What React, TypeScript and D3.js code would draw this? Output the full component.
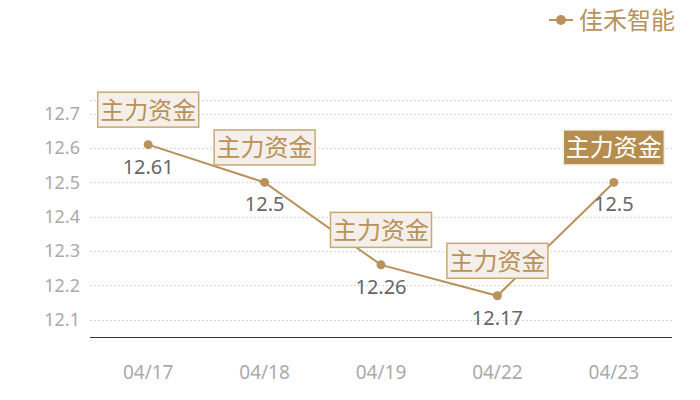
import React from "react";
import * as d3 from "d3";

const categories = ["04/17", "04/18", "04/19", "04/22", "04/23"];
const values = [12.61, 12.5, 12.26, 12.17, 12.5];
const yTicks = [12.1, 12.2, 12.3, 12.4, 12.5, 12.6, 12.7];
const tagText = "主力资金";
const highlighted = [false, false, false, false, true];
const seriesName = "佳禾智能";

const W = 700;
const H = 400;
const GOLD = "#b8925a";
const CJK = "'Noto Sans CJK SC', sans-serif";
const LAT = "'Noto Sans', 'Noto Sans CJK SC', sans-serif";

export default function App() {
  const left = 90;
  const right = 672;
  const top = 100;
  const bottom = 337;

  const x = d3.scaleBand<string>().domain(categories).range([left, right]);
  const y = d3.scaleLinear().domain([12.05, 12.74]).range([bottom, top]);
  const cx = (c: string) => (x(c) as number) + x.bandwidth() / 2;

  const line = d3
    .line<number>()
    .x((_, i) => cx(categories[i]))
    .y((v) => y(v));

  const gridVals = [...yTicks, 12.74];

  return (
    <svg
      width={W}
      height={H}
      style={{ position: "absolute", left: 0, top: 0, fontFamily: LAT }}
    >
      <rect width={W} height={H} fill="#fff" />
      {/* legend */}
      <g>
        <line x1={549} x2={573} y1={20} y2={20} stroke={GOLD} strokeWidth={2} />
        <circle cx={561} cy={20} r={5} fill={GOLD} />
        <text x={579} y={20} dy="0.36em" fontSize={24} fill={GOLD} fontFamily={CJK}>
          {seriesName}
        </text>
      </g>
      {/* grid */}
      {gridVals.map((v) => (
        <line
          key={v}
          x1={left}
          x2={right}
          y1={Math.round(y(v)) + 0.5}
          y2={Math.round(y(v)) + 0.5}
          stroke="#d6d6d6"
          strokeDasharray="2,2"
        />
      ))}
      {yTicks.map((v) => (
        <text
          key={v}
          x={80}
          y={y(v)}
          dy="0.35em"
          textAnchor="end"
          fontSize={18}
          fill="#aaa"
        >
          {v}
        </text>
      ))}
      <line x1={left} x2={right} y1={bottom + 0.5} y2={bottom + 0.5} stroke="#333" strokeWidth={1} />
      {categories.map((c) => (
        <text key={c} x={cx(c)} y={372} dy="0.35em" textAnchor="middle" fontSize={19} fill="#aaa">
          {c}
        </text>
      ))}
      {/* series */}
      <path d={line(values) || ""} fill="none" stroke={GOLD} strokeWidth={2} />
      {values.map((v, i) => (
        <circle key={i} cx={cx(categories[i])} cy={y(v)} r={4.5} fill={GOLD} />
      ))}
      {values.map((v, i) => (
        <text
          key={"v" + i}
          x={cx(categories[i])}
          y={y(v) + 22}
          dy="0.35em"
          textAnchor="middle"
          fontSize={20}
          fill="#666"
        >
          {v}
        </text>
      ))}
      {/* tags */}
      {values.map((v, i) => {
        const px = cx(categories[i]);
        const py = y(v) - 35;
        const hl = highlighted[i];
        return (
          <g key={"t" + i}>
            <rect
              x={px - 50.5}
              y={py - 17.5}
              width={101}
              height={35}
              fill={hl ? "#b58d4e" : "#f4efe8"}
              stroke={hl ? "#f4efe8" : "#c9a874"}
              strokeWidth={1.5}
            />
            <text
              x={px}
              y={py}
              dy="0.37em"
              textAnchor="middle"
              fontSize={24}
              fontFamily={CJK}
              fill={hl ? "#fff" : "#b8925a"}
            >
              {tagText}
            </text>
          </g>
        );
      })}
    </svg>
  );
}
